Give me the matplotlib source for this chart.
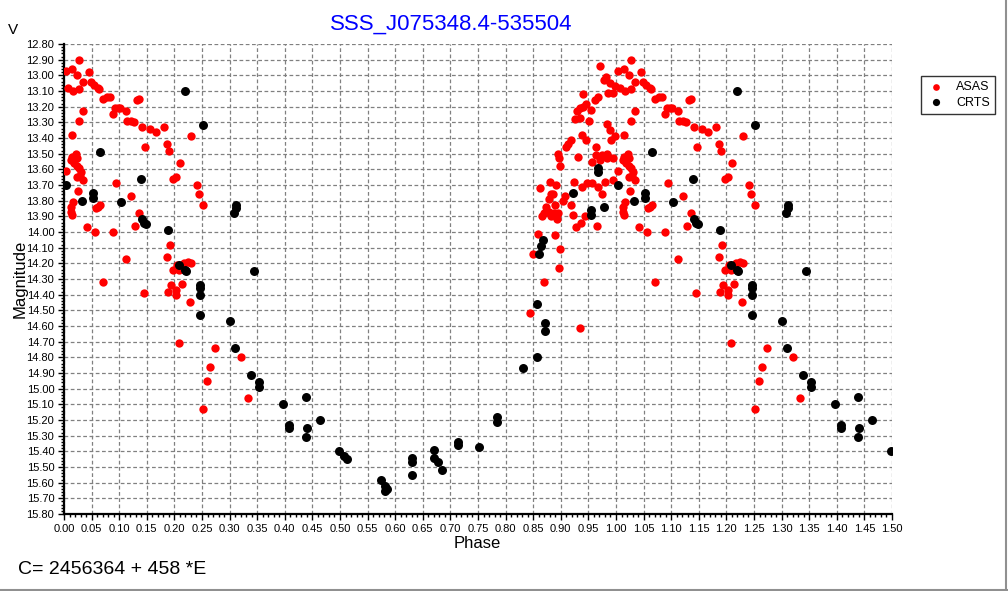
import matplotlib
matplotlib.use("Agg")
import matplotlib.pyplot as plt
from matplotlib.ticker import MultipleLocator, FormatStrFormatter
from matplotlib.lines import Line2D

plt.rcParams['font.family'] = ['Liberation Sans', 'DejaVu Sans']

# ASAS photometry, phase 0..1
asas_phase = [
    0.028, 0.004, 0.014, 0.023, 0.045, 0.034, 0.049, 0.055, 0.061, 0.064,
    0.008, 0.017, 0.027, 0.070, 0.078, 0.084, 0.133, 0.136, 0.035, 0.093,
    0.097, 0.101, 0.088, 0.112, 0.115, 0.122, 0.127, 0.027, 0.141, 0.156,
    0.167, 0.181, 0.230, 0.015, 0.147, 0.186, 0.190, 0.210, 0.021, 0.015,
    0.012, 0.023, 0.018, 0.024, 0.028, 0.030, 0.004, 0.023, 0.035, 0.029,
    0.025, 0.095, 0.121, 0.198, 0.203, 0.241, 0.244, 0.252,
    0.013, 0.012, 0.015, 0.017, 0.061, 0.065, 0.058, 0.135, 0.128, 0.041,
    0.056, 0.088, 0.192, 0.112, 0.186, 0.198, 0.204, 0.209, 0.217, 0.224,
    0.230, 0.071, 0.194, 0.188, 0.202, 0.203, 0.214, 0.145, 0.228, 0.208,
    0.264, 0.259, 0.252, 0.274, 0.320, 0.333,
    0.971, 0.982, 0.978, 0.989, 0.998, 0.986, 0.994, 0.941, 0.962, 0.968,
    0.946, 0.940, 0.955, 0.929, 0.935, 0.925, 0.934, 0.951, 0.984, 0.989,
    0.939, 0.945, 0.998, 0.991, 0.918, 0.913, 0.909, 0.932, 0.895, 0.896,
    0.899, 0.963, 0.963, 0.974, 0.983, 0.983, 0.971, 0.957, 0.995, 0.924,
    0.880, 0.891, 0.862, 0.882, 0.907, 0.939, 0.948, 0.956, 0.968, 0.980,
    0.995, 0.974, 0.885, 0.879, 0.904, 0.919, 0.873, 0.870, 0.866, 0.878,
    0.882, 0.888, 0.895, 0.890, 0.893, 0.923, 0.943, 0.928, 0.937, 0.965,
    0.859, 0.890, 0.899, 0.849, 0.896, 0.869, 0.844, 0.935,
]
asas_mag = [
    12.90, 12.97, 12.96, 13.00, 12.98, 13.04, 13.04, 13.06, 13.08, 13.09,
    13.08, 13.10, 13.09, 13.15, 13.14, 13.14, 13.16, 13.15, 13.23, 13.21,
    13.21, 13.21, 13.25, 13.23, 13.29, 13.29, 13.30, 13.29, 13.33, 13.34,
    13.36, 13.33, 13.39, 13.38, 13.46, 13.44, 13.48, 13.56, 13.50, 13.52,
    13.54, 13.53, 13.56, 13.58, 13.59, 13.62, 13.61, 13.65, 13.67, 13.64,
    13.74, 13.69, 13.77, 13.66, 13.65, 13.70, 13.76, 13.83,
    13.84, 13.87, 13.89, 13.81, 13.84, 13.83, 13.85, 13.88, 13.96, 13.97,
    14.00, 14.00, 14.08, 14.17, 14.16, 14.24, 14.21, 14.24, 14.20, 14.19,
    14.20, 14.32, 14.34, 14.38, 14.37, 14.40, 14.33, 14.39, 14.45, 14.71,
    14.86, 14.95, 15.13, 14.74, 14.80, 15.06,
    12.94, 13.01, 13.03, 13.05, 13.07, 13.11, 13.11, 13.12, 13.16, 13.14,
    13.18, 13.20, 13.22, 13.23, 13.21, 13.28, 13.27, 13.29, 13.31, 13.35,
    13.38, 13.41, 13.39, 13.41, 13.41, 13.44, 13.46, 13.52, 13.50, 13.53,
    13.58, 13.46, 13.51, 13.51, 13.50, 13.53, 13.54, 13.55, 13.53, 13.68,
    13.68, 13.70, 13.72, 13.76, 13.77, 13.71, 13.69, 13.69, 13.71, 13.68,
    13.67, 13.76, 13.76, 13.79, 13.80, 13.83, 13.84, 13.88, 13.90, 13.87,
    13.90, 13.88, 13.88, 13.83, 13.92, 13.89, 13.90, 13.97, 13.94, 13.96,
    14.01, 14.02, 14.11, 14.14, 14.23, 14.32, 14.52, 14.61,
]

# CRTS photometry, phase 0..1
crts_phase = [
    0.219, 0.252, 0.066, 0.003, 0.139, 0.052, 0.052, 0.032, 0.104, 0.141,
    0.145, 0.148, 0.188, 0.209, 0.220, 0.221, 0.246, 0.246, 0.247, 0.247,
    0.311, 0.312, 0.308, 0.344, 0.300, 0.310, 0.339, 0.353, 0.353, 0.396,
    0.438, 0.407, 0.407, 0.463, 0.440, 0.438, 0.499, 0.507, 0.513, 0.574,
    0.581, 0.586, 0.582, 0.630, 0.630, 0.630, 0.671, 0.671, 0.677, 0.684,
    0.714, 0.714, 0.751, 0.785, 0.785, 0.832, 0.856, 0.968, 0.968, 0.923,
    0.954, 0.954, 0.978, 0.868, 0.864, 0.861, 0.857, 0.872, 0.872,
]
crts_mag = [
    13.10, 13.32, 13.49, 13.70, 13.66, 13.75, 13.78, 13.80, 13.81, 13.92,
    13.94, 13.95, 13.99, 14.21, 14.24, 14.25, 14.34, 14.36, 14.40, 14.53,
    13.83, 13.85, 13.88, 14.25, 14.57, 14.74, 14.91, 14.96, 14.99, 15.10,
    15.05, 15.23, 15.25, 15.20, 15.25, 15.31, 15.40, 15.43, 15.45, 15.58,
    15.62, 15.64, 15.655, 15.44, 15.47, 15.55, 15.39, 15.44, 15.47, 15.52,
    15.34, 15.36, 15.37, 15.18, 15.21, 14.87, 14.80, 13.59, 13.62, 13.75,
    13.86, 13.89, 13.84, 14.05, 14.09, 14.14, 14.46, 14.58, 14.63,
]


def extend(ph, mag):
    # repeat the cycle up to phase 1.5
    p2 = list(ph) + [p + 1 for p in ph if p + 1 <= 1.505]
    m2 = list(mag) + [m for p, m in zip(ph, mag) if p + 1 <= 1.505]
    return p2, m2


ap, am = extend(asas_phase, asas_mag)
cp, cm = extend(crts_phase, crts_mag)

fig = plt.figure(figsize=(10.08, 5.91), dpi=100)
ax = fig.add_axes([64 / 1008, 1 - 514 / 591, 828 / 1008, 470 / 591])

ax.scatter(ap, am, s=36, color='#ff0000', marker='o', linewidths=0, label='ASAS', zorder=3)
ax.scatter(cp, cm, s=42, color='black', marker='o', linewidths=0, label='CRTS', zorder=4)

ax.set_xlim(0, 1.5)
ax.set_ylim(15.80, 12.80)
ax.xaxis.set_major_locator(MultipleLocator(0.05))
ax.xaxis.set_minor_locator(MultipleLocator(0.01))
ax.yaxis.set_major_locator(MultipleLocator(0.10))
ax.yaxis.set_minor_locator(MultipleLocator(0.02))
ax.xaxis.set_major_formatter(FormatStrFormatter('%.2f'))
ax.yaxis.set_major_formatter(FormatStrFormatter('%.2f'))
ax.tick_params(which='major', direction='out', length=4, width=1, labelsize=8, pad=3)
ax.tick_params(which='minor', direction='out', length=2, width=1)
ax.grid(True, which='major', color='#808080', linestyle=(0, (3, 2)), linewidth=0.9)
ax.set_axisbelow(True)
for s in ['top', 'right']:
    ax.spines[s].set_visible(False)
for s in ['left', 'bottom']:
    ax.spines[s].set_linewidth(1.6)

fig.text(451 / 1008, 1 - 24 / 591, 'SSS_J075348.4-535504', color='#0000ff',
         fontsize=16, ha='center', va='center')
fig.text(13 / 1008, 1 - 30 / 591, 'V', fontsize=11, ha='center', va='center')
fig.text(20 / 1008, 1 - 279 / 591, 'Magnitude', fontsize=12, rotation=90,
         ha='center', va='center')
fig.text(477 / 1008, 1 - 543 / 591, 'Phase', fontsize=12, ha='center', va='center')
fig.text(18 / 1008, 1 - 569 / 591, 'C= 2456364 + 458 *E', fontsize=14,
         ha='left', va='center')

leg = fig.legend(loc='upper left', bbox_to_anchor=(921 / 1008, 1 - 76 / 591),
                 borderaxespad=0, fontsize=9, frameon=True, fancybox=False,
                 borderpad=0.4, handletextpad=0.8, labelspacing=0.3,
                 handlelength=1.6, markerscale=0.8)
leg.get_frame().set_edgecolor('black')
leg.get_frame().set_linewidth(1.0)

# window frame lines at right and bottom
fig.add_artist(Line2D([1006 / 1008, 1006 / 1008], [0, 1], color='#909090', linewidth=1.5))
fig.add_artist(Line2D([0, 1], [1.5 / 591, 1.5 / 591], color='#909090', linewidth=1.5))

fig.savefig('out.png', dpi=100)
